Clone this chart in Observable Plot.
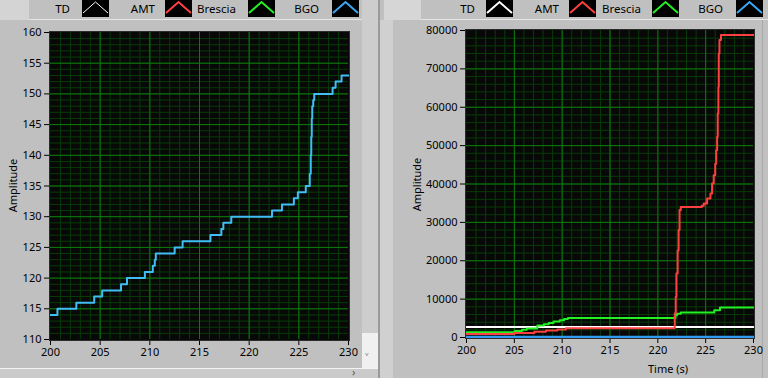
<!DOCTYPE html>
<html>
<head>
<meta charset="utf-8">
<script src="https://cdn.jsdelivr.net/npm/d3@7"></script>
<script src="https://cdn.jsdelivr.net/npm/@observablehq/plot@0.6"></script>
<style>
  html, body { margin: 0; padding: 0; }
  body { width: 768px; height: 378px; overflow: hidden; position: relative; background: #c0c0c0;
         font-family: "Noto Sans", sans-serif; }
  .abs { position: absolute; }
  .lbl { position: absolute; font-size: 11px; color: #000; white-space: nowrap; }
  .legtext { position: absolute; top: 1px; font-size: 11.5px; color: #000; text-align: right; line-height: 16px; }
  .sw { position: absolute; top: 0; width: 27px; height: 17px; background: #000; }
</style>
</head>
<body>
<div id="chrome"></div>
<script>
// ---------------- data ----------------
const seriesNames = ["TD", "AMT", "Brescia", "BGO"];
const seriesColors = ["#ffffff", "#ff4040", "#22f022", "#3aa8f5"];

// BGO (left chart, step values)
const bgoTime = [200, 200.7, 202.6, 204.4, 205.2, 207.1, 207.7, 209.5, 210.3, 210.5, 210.6, 212.5, 213.3,
  216.1, 217.2, 217.4, 218.2, 222.3, 223.3, 224.5, 224.9, 225.7, 226.1, 226.2, 226.25, 226.3, 226.35,
  226.45, 226.55, 228.4, 228.7, 229.3, 230];
const bgoValue = [114, 115, 116, 117, 118, 119, 120, 121, 122, 123, 124, 125, 126,
  127, 128, 129, 130, 131, 132, 133, 134, 135, 137, 140, 143, 146, 148,
  149, 150, 151, 152, 153, 153];

// AMT (red)
const amtTime = [200, 205.0, 207.1, 208.3, 209.5, 210.4, 221.77, 221.87, 221.94, 222.07, 222.17, 222.27, 222.4,
  224.6, 224.8, 225.15, 225.5, 225.67, 225.84, 226.0, 226.1, 226.2, 226.26, 226.33, 226.37, 226.44, 226.6, 230];
const amtValue = [900, 1200, 1500, 1800, 2100, 2400, 6300, 10600, 16700, 22700, 28000, 33200, 34000,
  34300, 34900, 36200, 37500, 40100, 42300, 45300, 48800, 52300, 58400, 65300, 74000, 77500, 78800, 78800];

// Brescia (green)
const bresciaTime = [200, 205.05, 205.8, 206.3, 207.4, 208.1, 208.6, 209.1, 209.75, 210.2, 210.6,
  221.84, 222.0, 222.4, 225.9, 226.5, 230];
const bresciaValue = [1400, 1700, 2050, 2350, 3100, 3450, 3800, 4150, 4500, 4850, 5100,
  5800, 6200, 6500, 7100, 7800, 7800];

// TD (white)
const tdTime = [200, 230];
const tdValue = [2750, 2750];

// ticks
const xTicks = [200, 205, 210, 215, 220, 225, 230];
const leftYTicks = [110, 115, 120, 125, 130, 135, 140, 145, 150, 155, 160];
const rightYTicks = [0, 10000, 20000, 30000, 40000, 50000, 60000, 70000, 80000];

const toRows = (t, v) => t.map((d, i) => ({t: d, v: v[i]}));
const bgo = toRows(bgoTime, bgoValue);
const amt = toRows(amtTime, amtValue);
const brescia = toRows(bresciaTime, bresciaValue);
const td = toRows(tdTime, tdValue);

const inner = (arr) => arr.slice(1, -1);
const minorC = "#073c07", majorC = "#0c7a0c", plotBg = "#080808";
const font = {background: "transparent", color: "#000", fontSize: "11px", fontFamily: "'Noto Sans', sans-serif", overflow: "visible"};

// ---------------- chrome ----------------
const chrome = document.getElementById("chrome");
function box(l, t, w, h, bg, extra = "") {
  const d = document.createElement("div");
  d.className = "abs";
  d.style.cssText = `left:${l}px;top:${t}px;width:${w}px;height:${h}px;background:${bg};${extra}`;
  chrome.appendChild(d);
  return d;
}
function text(cls, l, t, s, extra = "") {
  const d = document.createElement("div");
  d.className = cls;
  d.style.cssText = `left:${l}px;top:${t}px;${extra}`;
  d.textContent = s;
  chrome.appendChild(d);
  return d;
}
// top-left light zones
box(0, 0, 29, 20, "#d4d4d4");
box(384, 0, 37, 20, "#d6d6d6");
box(380, 20, 13, 358, "#d0d0d0");
// legend bars
box(29, 0, 333, 19, "#c0c0c0", "border-bottom:1px solid #e6e6e6;");
box(421, 0, 347, 19, "#c0c0c0", "border-bottom:1px solid #e6e6e6;");
// scrollbar at left panel
box(362, 0, 16, 333, "#cdcdcd");
box(362, 333, 16, 35, "#f0f0f0");
box(378, 0, 2, 378, "#9a9a9a");
box(0, 368, 378, 10, "#cacaca", "border-top:1px solid #f4f4f4;");
box(762, 20, 1, 358, "#a8a8a8");
text("lbl", 365, 352, "\u02c5", "font-size:13px;line-height:13px;color:#555;");
text("lbl", 352, 366, "\u203a", "font-size:11px;line-height:11px;color:#555;");

function legend(swatchXs, labelRights, thinTD) {
  seriesNames.forEach((name, i) => {
    const t = text("legtext", 0, 1, name);
    t.style.left = (labelRights[i] - 60) + "px";
    t.style.width = "60px";
    const s = document.createElement("div");
    s.className = "sw";
    s.style.left = swatchXs[i] + "px";
    const w = (i === 0 && thinTD) ? 1 : 2;
    s.innerHTML = `<svg width="27" height="17"><polyline points="1,13 13.5,2 26,13" fill="none" stroke="${seriesColors[i]}" stroke-width="${w}"/></svg>`;
    chrome.appendChild(s);
  });
}
legend([82, 165, 248, 332], [70, 155, 236, 319], true);
legend([486, 569, 652, 736], [475, 559, 641, 723], false);

// axis titles
text("lbl", -16, 178, "Amplitude", "transform:rotate(-90deg);transform-origin:center;width:56px;text-align:center;");
text("lbl", 388, 177, "Amplitude", "transform:rotate(-90deg);transform-origin:center;width:56px;text-align:center;");
text("lbl", 648, 361, "Time (s)");

// ---------------- left chart ----------------
const left = Plot.plot({
  width: 362, height: 348,
  marginLeft: 50, marginRight: 14, marginTop: 12, marginBottom: 29,
  style: font,
  x: {domain: [200, 230], ticks: xTicks, tickSize: 6, tickPadding: 3, label: null},
  y: {domain: [110, 160], ticks: leftYTicks, tickSize: 6, tickPadding: 3, label: null},
  marks: [
    Plot.frame({fill: plotBg, inset: -1}),
    Plot.ruleX(inner(d3.range(200, 231, 1)), {stroke: minorC, strokeWidth: 1}),
    Plot.ruleY(inner(d3.range(110, 161, 1)), {stroke: minorC, strokeWidth: 1}),
    Plot.ruleX(inner(xTicks), {stroke: majorC, strokeWidth: 1}),
    Plot.ruleY(inner(leftYTicks), {stroke: majorC, strokeWidth: 1}),
    Plot.line(bgo, {x: "t", y: "v", curve: "step-after", stroke: "#41bdf5", strokeWidth: 2}),
    Plot.frame({stroke: "#2c2c2c", inset: -1})
  ]
});
left.style.position = "absolute";
left.style.left = "0px";
left.style.top = "20px";
document.body.appendChild(left);

// ---------------- right chart ----------------
const right = Plot.plot({
  width: 384, height: 348,
  marginLeft: 82, marginRight: 15, marginTop: 10, marginBottom: 31,
  style: font,
  x: {domain: [200, 230], ticks: xTicks, tickSize: 6, tickPadding: 3, label: null},
  y: {domain: [0, 80000], ticks: rightYTicks, tickSize: 6, tickPadding: 3, tickFormat: "d", label: null},
  marks: [
    Plot.frame({fill: plotBg, inset: -1}),
    Plot.ruleX(inner(d3.range(200, 231, 1)), {stroke: minorC, strokeWidth: 1}),
    Plot.ruleY(inner(d3.range(0, 80001, 2000)), {stroke: minorC, strokeWidth: 1}),
    Plot.ruleX(inner(xTicks), {stroke: majorC, strokeWidth: 1}),
    Plot.ruleY(inner(rightYTicks), {stroke: majorC, strokeWidth: 1}),
    Plot.line(td, {x: "t", y: "v", stroke: seriesColors[0], strokeWidth: 2}),
    Plot.line(bgo, {x: "t", y: "v", curve: "step-after", stroke: "#3399f0", strokeWidth: 2.5}),
    Plot.line(brescia, {x: "t", y: "v", curve: "step-after", stroke: seriesColors[2], strokeWidth: 2}),
    Plot.line(amt, {x: "t", y: "v", curve: "step-after", stroke: seriesColors[1], strokeWidth: 2}),
    Plot.frame({stroke: "#2c2c2c", inset: -1})
  ]
});
right.style.position = "absolute";
right.style.left = "384px";
right.style.top = "20px";
document.body.appendChild(right);
</script>
</body>
</html>
